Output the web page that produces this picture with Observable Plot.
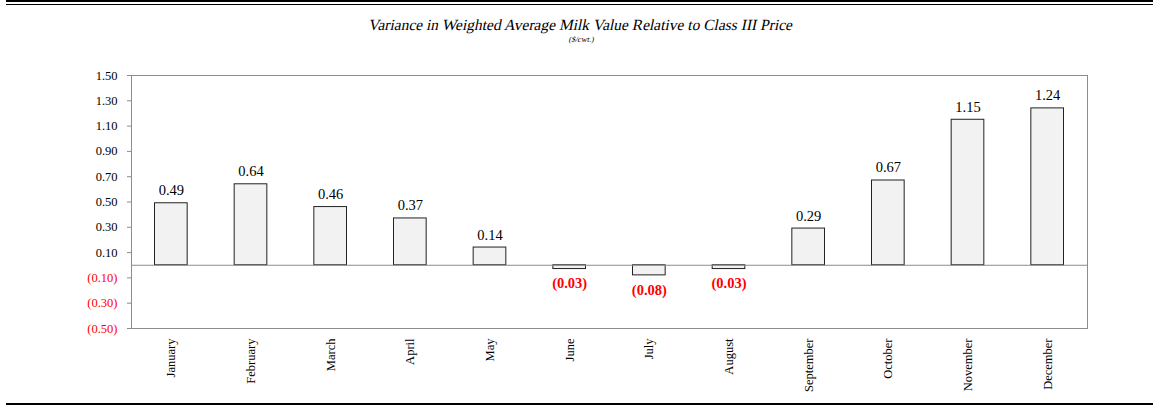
<!DOCTYPE html>
<html>
<head>
<meta charset="utf-8">
<script src="https://cdn.jsdelivr.net/npm/d3@7"></script>
<script src="https://cdn.jsdelivr.net/npm/@observablehq/plot@0.6"></script>
<style>
  html, body { margin: 0; padding: 0; background: #fff; }
  #wrap { position: relative; width: 1153px; height: 406px; overflow: hidden; font-family: "Liberation Serif", "Times New Roman", serif; }
  .rule { position: absolute; left: 6px; right: 0; background: #000; }
  .head { position: absolute; left: 0; width: 1163px; text-align: center; color: #000; font-family: "Liberation Serif", serif; }
  .head span { display: inline-block; transform: skewX(-12deg); }
  #title { top: 16px; font-size: 15.5px; }
  #subtitle { top: 35px; font-size: 8px; }
  #chart { position: absolute; left: 0; top: 0; }
</style>
</head>
<body>
<div id="wrap">
  <div id="chart"></div>
  <div class="rule" style="top:0px;height:2px"></div>
  <div class="rule" style="top:4px;height:1px"></div>
  <div class="rule" style="top:403px;height:2px"></div>
  <div class="head" id="title"><span>Variance in Weighted Average Milk Value Relative to Class III Price</span></div>
  <div class="head" id="subtitle"><span>($/cwt.)</span></div>
</div>
<script>
// Monthly variance, $/cwt.
const months = ["January", "February", "March", "April", "May", "June",
                "July", "August", "September", "October", "November", "December"];
const variance = [0.49, 0.64, 0.46, 0.37, 0.14, -0.03, -0.08, -0.03, 0.29, 0.67, 1.15, 1.24];
const yTicks = [-0.5, -0.3, -0.1, 0.1, 0.3, 0.5, 0.7, 0.9, 1.1, 1.3, 1.5];

const data = months.map((m, i) => ({month: m, value: variance[i]}));
const fmt = v => v < 0 ? `(${Math.abs(v).toFixed(2)})` : v.toFixed(2);
const RED = "#ff0000";

const chart = Plot.plot({
  width: 1153,
  height: 406,
  marginLeft: 131,
  marginRight: 66,
  marginTop: 75,
  marginBottom: 78,
  style: {fontFamily: "'Liberation Serif', 'Times New Roman', serif", background: "transparent"},
  x: {domain: months, paddingInner: 0.59, paddingOuter: 0.295, round: false, axis: null},
  y: {domain: [-0.5, 1.5], axis: null},
  marks: [
    Plot.frame({stroke: "#8c8c8c", strokeWidth: 1}),
    Plot.axisY(yTicks.filter(t => t > 0), {label: null, tickSize: 4, tickPadding: 10, tickFormat: fmt, fontSize: 12.5, fill: "#000", stroke: "#8c8c8c"}),
    Plot.axisY(yTicks.filter(t => t < 0), {label: null, tickSize: 4, tickPadding: 10, tickFormat: fmt, fontSize: 12.5, fill: RED, stroke: "#8c8c8c"}),
    Plot.axisX({label: null, tickSize: 0, tickPadding: 10, tickRotate: -90, fontSize: 12.5, fill: "#000", textAnchor: "end"}),
    Plot.barY(data, {x: "month", y: "value", fill: "#f2f2f2", stroke: "#222", strokeWidth: 1}),
    Plot.ruleY([0], {stroke: "#8c8c8c", strokeWidth: 1}),
    Plot.text(data.filter(d => d.value >= 0), {x: "month", y: "value", text: d => fmt(d.value), dy: -8, lineAnchor: "bottom", fontSize: 14.5, fill: "#000"}),
    Plot.text(data.filter(d => d.value < 0), {x: "month", y: "value", text: d => fmt(d.value), dy: 9, lineAnchor: "top", fontSize: 14.5, fontWeight: "bold", fill: RED})
  ]
});
document.getElementById("chart").appendChild(chart);
</script>
</body>
</html>
